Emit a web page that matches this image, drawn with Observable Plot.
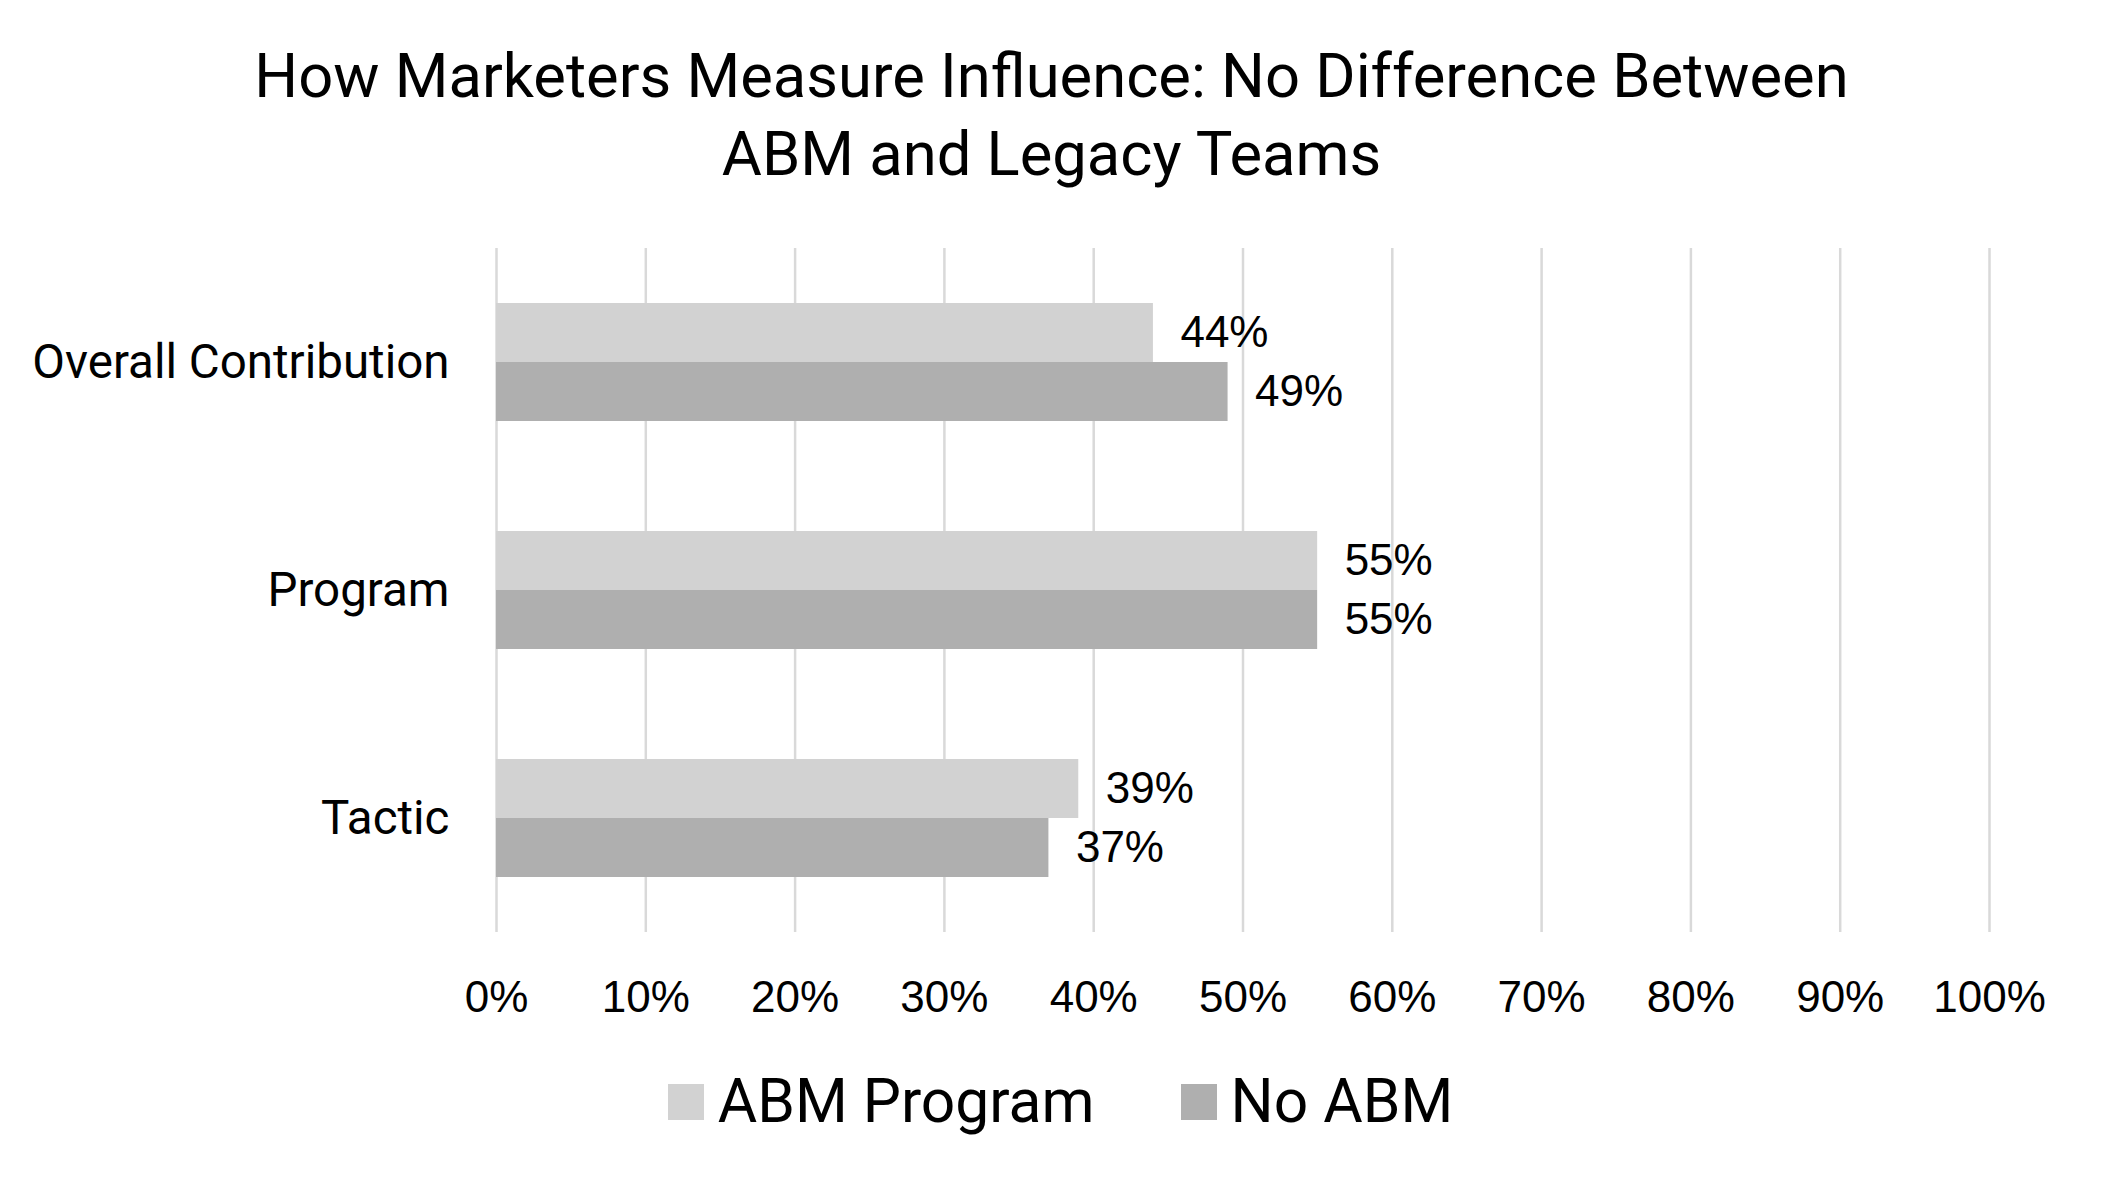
<!DOCTYPE html>
<html>
<head>
<meta charset="utf-8">
<script src="https://cdn.jsdelivr.net/npm/d3@7"></script>
<script src="https://cdn.jsdelivr.net/npm/@observablehq/plot@0.6"></script>
<style>
  html, body { margin: 0; padding: 0; background: #fff; }
  #wrap { position: relative; width: 2103px; height: 1191px; overflow: hidden; }
  #title { position: absolute; top: 37px; left: 0; width: 2103px; text-align: center;
    font-family: Roboto, sans-serif; font-size: 61.5px; line-height: 78px; color: #000; }
  #chart { position: absolute; top: 170px; left: 0; }
  #legend { position: absolute; top: 1066px; left: 9px; width: 2103px; display: flex; justify-content: center;
    align-items: center; font-family: Roboto, sans-serif; font-size: 60.5px; color: #000; }
  .item { display: flex; align-items: center; margin: 0 43px; }
  .sw { width: 36px; height: 36px; margin-right: 14px; }
</style>
</head>
<body>
<div id="wrap">
  <div id="title">How Marketers Measure Influence: No Difference Between<br>ABM and Legacy Teams</div>
  <div id="chart"></div>
  <div id="legend"></div>
</div>
<script>
const categories = ["Overall Contribution", "Program", "Tactic"];
const seriesNames = ["ABM Program", "No ABM"];
const abmProgram = [44, 55, 39];
const noAbm = [49, 55, 37];
const xTicks = [0, 10, 20, 30, 40, 50, 60, 70, 80, 90, 100];
const colors = ["#d2d2d2", "#afafaf"];

const data = [];
categories.forEach((c, i) => {
  data.push({category: c, series: seriesNames[0], value: abmProgram[i]});
  data.push({category: c, series: seriesNames[1], value: noAbm[i]});
});

const labelFont = "Roboto, sans-serif";
const numFont = "'Liberation Sans', Arial, sans-serif";

const chart = Plot.plot({
  width: 2103,
  height: 862,
  marginLeft: 496,
  marginRight: 114,
  marginTop: 78,
  marginBottom: 100,
  x: {domain: [0, 100], axis: null},
  y: {domain: seriesNames, paddingInner: 0, paddingOuter: 0.93, axis: null},
  fy: {domain: categories, padding: 0, axis: null},
  color: {domain: seriesNames, range: colors},
  marks: [
    Plot.gridX(xTicks, {stroke: "#d9d9d9", strokeOpacity: 1, strokeWidth: 2.5}),
    Plot.barX(data, {x: "value", y: "series", fy: "category", fill: "series"}),
    Plot.text(data, {x: "value", y: "series", fy: "category", text: d => d.value + "%",
      textAnchor: "start", dx: 27, fontSize: 44, fontFamily: numFont, fill: "#000"}),
    Plot.axisFy({anchor: "left", tickSize: 0, tickPadding: 47, label: null,
      fontSize: 47.5, fontFamily: labelFont, fill: "#000"}),
    Plot.axisX(xTicks, {anchor: "bottom", tickSize: 0, tickPadding: 48, label: null,
      tickFormat: d => d + "%", fontSize: 44, fontFamily: numFont, fill: "#000"})
  ]
});
chart.style.overflow = "visible";
document.getElementById("chart").appendChild(chart);

const legend = document.getElementById("legend");
seriesNames.forEach((s, i) => {
  const it = document.createElement("div");
  it.className = "item";
  const sw = document.createElement("div");
  sw.className = "sw";
  sw.style.background = colors[i];
  const t = document.createElement("span");
  t.textContent = s;
  it.appendChild(sw); it.appendChild(t);
  legend.appendChild(it);
});
</script>
</body>
</html>
